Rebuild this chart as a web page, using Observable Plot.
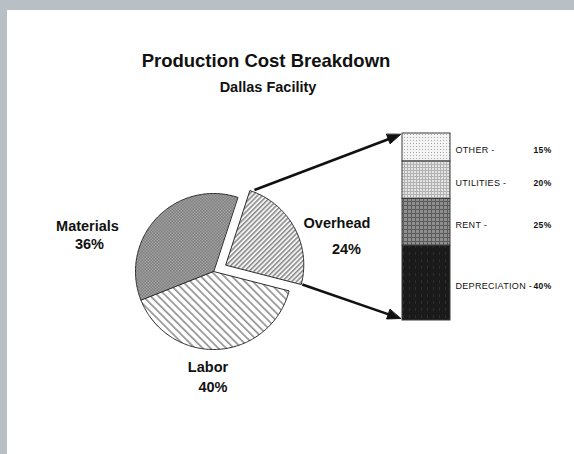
<!DOCTYPE html>
<html>
<head>
<meta charset="utf-8">
<script src="https://cdn.jsdelivr.net/npm/d3@7"></script>
<script src="https://cdn.jsdelivr.net/npm/@observablehq/plot@0.6"></script>
<style>
  html, body { margin: 0; padding: 0; }
  body { width: 574px; height: 454px; background: #b8bfc5; position: relative; overflow: hidden;
         font-family: "Liberation Sans", Arial, sans-serif; color: #111; }
  #paper { position: absolute; left: 7px; top: 10px; right: 0; bottom: 0; background: #fff; }
  .ttl { position: absolute; left: 0; text-align: center; font-weight: bold; white-space: nowrap; }
  #title { width: 532px; top: 50px; font-size: 18.5px; line-height: 22px; }
  #subtitle { width: 536px; top: 79px; font-size: 14.5px; line-height: 17px; }
  #main { position: absolute; left: 0; top: 100px; }
  #barplot { position: absolute; left: 395px; top: 125px; }
  #barplot svg { letter-spacing: 0.3px; }
</style>
</head>
<body>
<svg width="0" height="0" style="position:absolute">
  <defs>
    <pattern id="pat-Materials" width="3" height="3" patternUnits="userSpaceOnUse">
      <rect width="3" height="3" fill="#c9c9c9"/>
      <rect width="1.5" height="1.5" fill="#555555"/>
      <rect x="1.5" y="1.5" width="1.5" height="1.5" fill="#555555"/>
    </pattern>
    <pattern id="pat-Labor" width="5.5" height="5.5" patternUnits="userSpaceOnUse" patternTransform="rotate(-45)">
      <rect width="5.5" height="5.5" fill="#ffffff"/>
      <rect width="1.6" height="5.5" fill="#8f8f8f"/>
    </pattern>
    <pattern id="pat-Overhead" width="3.4" height="3.4" patternUnits="userSpaceOnUse" patternTransform="rotate(45)">
      <rect width="3.4" height="3.4" fill="#f2f2f2"/>
      <rect width="1.5" height="3.4" fill="#8a8a8a"/>
    </pattern>
    <pattern id="bar-0" width="3" height="3" patternUnits="userSpaceOnUse">
      <rect width="3" height="3" fill="#f4f4f4"/>
      <rect width="1" height="1" fill="#a8a8a8"/>
    </pattern>
    <pattern id="bar-1" width="3" height="3" patternUnits="userSpaceOnUse">
      <rect width="3" height="3" fill="#e4e4e4"/>
      <rect width="3" height="1" fill="#b2b2b2"/>
      <rect width="1" height="3" fill="#b2b2b2"/>
    </pattern>
    <pattern id="bar-2" width="4" height="4" patternUnits="userSpaceOnUse">
      <rect width="4" height="4" fill="#8e8e8e"/>
      <rect width="4" height="1" fill="#5c5c5c"/>
      <rect width="1" height="4" fill="#5c5c5c"/>
    </pattern>
    <pattern id="bar-3" width="6" height="7" patternUnits="userSpaceOnUse">
      <rect width="6" height="7" fill="#1a1a1a"/>
      <rect x="2" y="1" width="1" height="3" fill="#2e2e2e"/>
    </pattern>
  </defs>
</svg>
<div id="paper"></div>
<div id="title" class="ttl">Production Cost Breakdown</div>
<div id="subtitle" class="ttl">Dallas Facility</div>
<div id="main"></div>
<div id="barplot"></div>
<script>
// ---------------- data ----------------
const pieCategories = ["Overhead", "Labor", "Materials"];
const pieShares = [24, 40, 36];
const pieLabels = ["24%", "40%", "36%"];

const barCategories = ["OTHER", "UTILITIES", "RENT", "DEPRECIATION"];
const barShares = [15, 20, 25, 40];
const barLabels = ["15%", "20%", "25%", "40%"];

// ---------------- layout ----------------
const W = 574, H = 354, TOP = 100;          // main svg placed at page y = 100
const cx = 213, cy = 271 - TOP, R = 78;     // pie centre / radius
const startDeg = 18, explode = 14;          // clockwise from north
const barBox = {x0: 402, x1: 450, y0: 133, y1: 320, left: 395, top: 125, w: 175, h: 205};
const labelOffsets = {                       // [name dx, dy, pct dx, dy] from pie centre
  Materials: [-126, -45, -124, -27.5],
  Overhead: [123.5, -48, 133, -22.5],
  Labor: [-5.5, 96, -0.5, 116]
};

// ---------------- pie geometry from values ----------------
const total = d3.sum(pieShares);
const piePts = [];
const sliceInfo = {};
let a0 = startDeg * Math.PI / 180;
pieCategories.forEach((name, i) => {
  const a1 = a0 + pieShares[i] / total * 2 * Math.PI;
  const mid = (a0 + a1) / 2;
  const off = name === "Overhead" ? explode : 0;
  const ox = cx + off * Math.sin(mid), oy = cy - off * Math.cos(mid);
  piePts.push({name, x: ox, y: oy});
  const n = Math.ceil((a1 - a0) / (Math.PI / 180));
  for (let k = 0; k <= n; k++) {
    const a = a0 + (a1 - a0) * k / n;
    piePts.push({name, x: ox + R * Math.sin(a), y: oy - R * Math.cos(a)});
  }
  sliceInfo[name] = {a0, a1, ox, oy};
  a0 = a1;
});

// arrows from the exploded slice corners to the bar corners
const ov = sliceInfo.Overhead;
const aTop = ov.a0 + 3 * Math.PI / 180, aBot = ov.a1;
const arrowsRaw = [
  {id: "top", sx: ov.ox + (R + 2) * Math.sin(aTop), sy: ov.oy - (R + 2) * Math.cos(aTop),
   tx: barBox.x0 - 2, ty: barBox.y0 + 1 - TOP},
  {id: "bot", sx: ov.ox + (R + 1) * Math.sin(aBot), sy: ov.oy - (R + 1) * Math.cos(aBot),
   tx: barBox.x0 - 2, ty: barBox.y1 - 2 - TOP}
];
const HL = 13, HW = 5;
const arrows = [], heads = [];
arrowsRaw.forEach(a => {
  const dx = a.tx - a.sx, dy = a.ty - a.sy, len = Math.hypot(dx, dy);
  const ux = dx / len, uy = dy / len, nx = -uy, ny = ux;
  const bx = a.tx - ux * HL, by = a.ty - uy * HL;
  arrows.push({x1: a.sx, y1: a.sy, x2: bx + ux * 2, y2: by + uy * 2});
  heads.push({id: a.id, x: a.tx, y: a.ty});
  heads.push({id: a.id, x: bx + nx * HW, y: by + ny * HW});
  heads.push({id: a.id, x: bx - nx * HW, y: by - ny * HW});
});

const labelData = pieCategories.map((name, i) => {
  const o = labelOffsets[name];
  return {name, pct: pieLabels[i], nx: cx + o[0], ny: cy + o[1], px: cx + o[2], py: cy + o[3]};
});

const font = "Liberation Sans, Arial, sans-serif";

const main = Plot.plot({
  width: W, height: H, margin: 0,
  x: {type: "linear", domain: [0, W], range: [0, W], axis: null},
  y: {type: "linear", domain: [0, H], range: [0, H], axis: null},
  style: {background: "transparent", overflow: "visible"},
  marks: [
    ...pieCategories.map(name => Plot.line(piePts.filter(p => p.name === name), {
      x: "x", y: "y", curve: "linear-closed",
      fill: `url(#pat-${name})`, stroke: "#2a2a2a", strokeWidth: 1, strokeLinejoin: "miter"
    })),
    Plot.link(arrows, {x1: "x1", y1: "y1", x2: "x2", y2: "y2", stroke: "#111", strokeWidth: 2.6}),
    Plot.line(heads, {x: "x", y: "y", z: "id", curve: "linear-closed", fill: "#111", stroke: "#111", strokeWidth: 1}),
    Plot.text(labelData, {x: "nx", y: "ny", text: "name", fontSize: 14.5, fontWeight: "bold", fontFamily: font, fill: "#111"}),
    Plot.text(labelData, {x: "px", y: "py", text: "pct", fontSize: 14.5, fontWeight: "bold", fontFamily: font, fill: "#111"})
  ]
});
document.getElementById("main").appendChild(main);

// ---------------- stacked breakdown bar ----------------
const barData = barCategories.map((name, i) => ({name, value: barShares[i], pct: barLabels[i], i}));
const bandMid = (barBox.x0 + barBox.x1) / 2;
const barPlot = Plot.plot({
  width: barBox.w, height: barBox.h, margin: 0,
  x: {type: "band", domain: ["Overhead"], range: [barBox.x0 - barBox.left, barBox.x1 - barBox.left], padding: 0, axis: null},
  y: {type: "linear", domain: [0, 100], range: [barBox.y0 - barBox.top, barBox.y1 - barBox.top], axis: null},
  color: {type: "identity"},
  style: {background: "transparent", overflow: "visible"},
  marks: [
    Plot.barY(barData, {x: () => "Overhead", y: "value", fill: d => `url(#bar-${d.i})`, stroke: "#3a3a3a", strokeWidth: 1}),
    Plot.text(barData, Plot.stackY({x: () => "Overhead", y: "value", text: d => d.name + " -",
      textAnchor: "start", dx: 455 - bandMid, dy: 3, fontSize: 9, fontFamily: font, fill: "#111"})),
    Plot.text(barData, Plot.stackY({x: () => "Overhead", y: "value", text: "pct",
      textAnchor: "end", dx: 551 - bandMid, dy: 3, fontSize: 8.5, fontWeight: "bold", fontFamily: font, fill: "#111"}))
  ]
});
document.getElementById("barplot").appendChild(barPlot);
</script>
</body>
</html>
